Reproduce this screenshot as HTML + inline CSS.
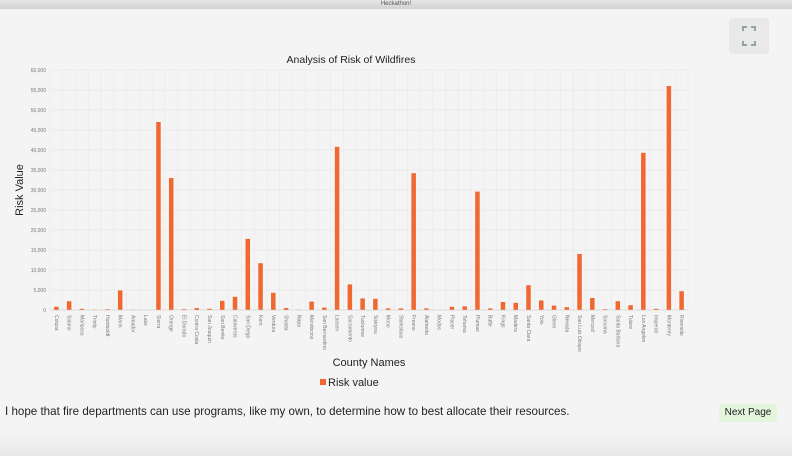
<!DOCTYPE html>
<html><head><meta charset="utf-8">
<style>
html,body{margin:0;padding:0;width:792px;height:456px;overflow:hidden;background:#f4f4f4;font-family:"Liberation Sans",sans-serif;}
#titlebar{position:absolute;left:0;top:0;width:792px;height:9px;background:linear-gradient(#e6e6e6,#d2d2d2);font-size:6px;color:#555;text-align:center;line-height:9px;}
#fs{position:absolute;left:729px;top:18px;width:40px;height:36px;background:#e9e9e9;border-radius:3px;}
#msg{position:absolute;left:5px;top:405px;font-size:11.6px;color:#222;}
#next{position:absolute;left:719px;top:404px;width:58px;height:18px;background:#e3f6dc;border-radius:2px;font-size:10px;color:#222;text-align:center;line-height:18px;}
#bottom{position:absolute;left:0;top:432px;width:792px;height:24px;background:linear-gradient(#f4f4f4,#e8e8e8);}
</style></head><body>
<div id="titlebar">Heckathon!</div>
<div id="fs">
<svg width="40" height="36"><g stroke="#95a3a5" stroke-width="2" fill="none"><path d="M14 13V9h4M22 9h4v4M26 23v4h-4M18 27h-4v-4"/></g></svg></div>
<svg id="chart" width="792" height="400" style="position:absolute;left:0;top:0"></svg>
<div id="msg">I hope that fire departments can use programs, like my own, to determine how to best allocate their resources.</div>
<div id="next">Next Page</div>
<div id="bottom"></div>
<script>
const categories=["Colusa","Solano","Mariposa","Trinity","Humboldt","Marin","Amador","Lake","Sierra","Orange","El Dorado","Contra Costa","San Joaquin","San Benito","Calaveras","San Diego","Kern","Ventura","Shasta","Napa","Mendocino","San Bernardino","Lassen","Sacramento","Tuolumne","Siskiyou","Mono","Stanislaus","Fresno","Alameda","Modoc","Placer","Tehama","Plumas","Butte","Kings","Madera","Santa Clara","Yolo","Glenn","Nevada","San Luis Obispo","Merced","Sonoma","Santa Barbara","Tulare","Los Angeles","Imperial","Monterey","Riverside"];
const riskValues=[800,2200,300,100,200,4900,100,0,47000,33000,200,500,300,2300,3300,17800,11700,4300,500,100,2100,600,40800,6400,2900,2800,400,400,34200,400,0,800,900,29600,400,2000,1800,6200,2400,1100,700,14000,3000,200,2200,1200,39300,300,56000,4700];
const yTicks=[0,5000,10000,15000,20000,25000,30000,35000,40000,45000,50000,55000,60000];
const svg=document.getElementById('chart');const NS='http://www.w3.org/2000/svg';
const L=50,R=688,T=70,B=310,YMAX=60000;
const y=v=>B-(v/YMAX)*(B-T);
const step=(R-L)/categories.length;
const x=i=>L+step*(i+0.5);
function mk(t,a,txt){const e=document.createElementNS(NS,t);for(const k in a)e.setAttribute(k,a[k]);if(txt!==undefined)e.textContent=txt;svg.appendChild(e);return e;}
let e;
for(let i=0;i<=categories.length;i++){e=mk('line',{x1:L+step*i,x2:L+step*i,y1:T,y2:B,stroke:'#e9e9e9','stroke-width':0.6});

}
yTicks.forEach(v=>{e=mk('line',{x1:L,x2:R,y1:y(v),y2:y(v),stroke:'#e6e6e6','stroke-width':0.6});


e=mk('text',{x:L-4,y:y(v)+2,'font-size':5,'text-anchor':'end',fill:'#777'},v.toLocaleString('en-US'));

});
const bw=4.5;
riskValues.forEach((v,i)=>{e=mk('rect',{x:x(i)-bw/2,y:y(v),width:bw,height:B-y(v),fill:'#f0682f'});

});
categories.forEach((c,i)=>{e=mk('text',{x:0,y:0,'font-size':5,fill:'#777',transform:`translate(${x(i)-1.5},${B+5}) rotate(90)`},c);

});
e=mk('line',{x1:L,x2:R,y1:B,y2:B,stroke:'#ccc','stroke-width':0.6});


e=mk('text',{x:351,y:63,'font-size':10.5,'text-anchor':'middle',fill:'#222'},'Analysis of Risk of Wildfires');


e=mk('text',{x:0,y:0,'font-size':11,'text-anchor':'middle',fill:'#222',transform:'translate(23,190) rotate(-90)'},'Risk Value');


e=mk('text',{x:369,y:366,'font-size':11,'text-anchor':'middle',fill:'#222'},'County Names');


e=mk('rect',{x:320,y:379,width:6,height:6,fill:'#f0682f'});


e=mk('text',{x:328,y:386,'font-size':11,fill:'#222'},'Risk value');


</script>
</body></html>
